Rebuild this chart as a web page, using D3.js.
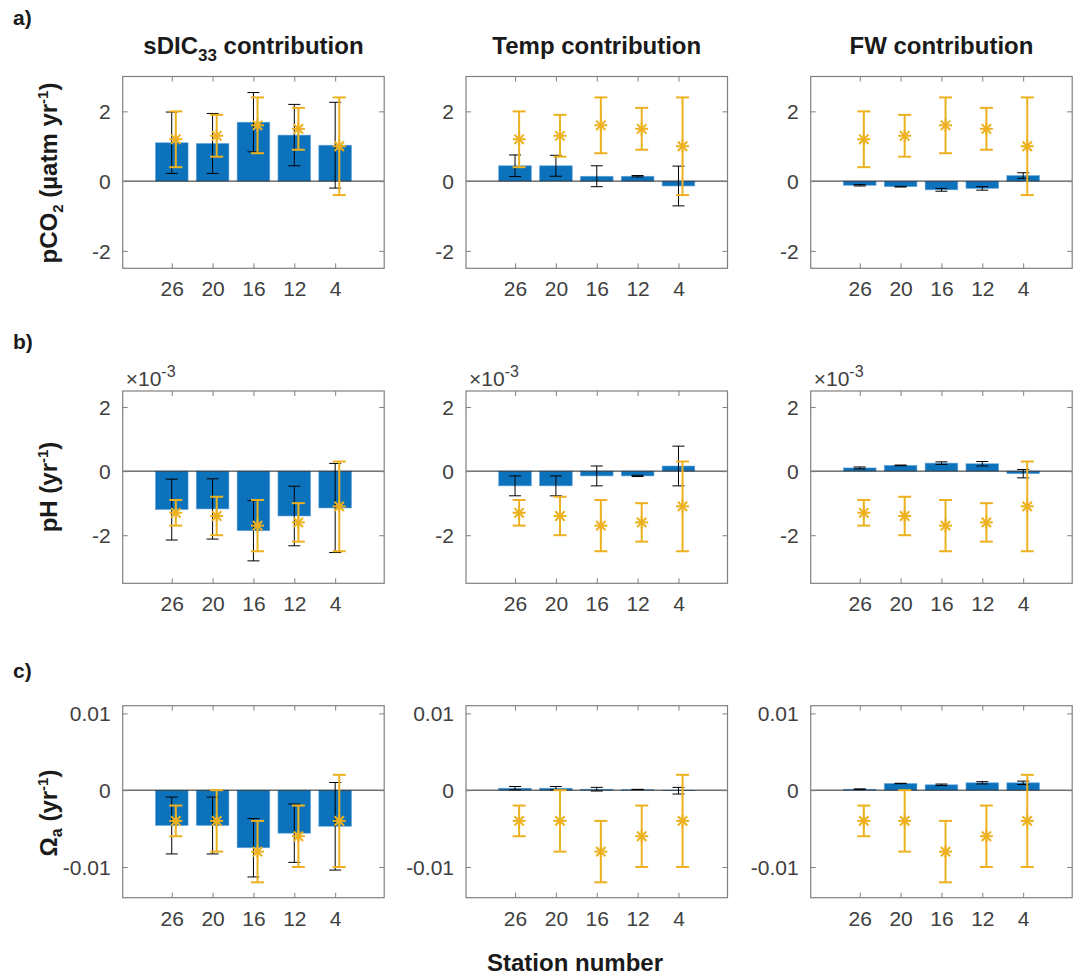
<!DOCTYPE html>
<html>
<head>
<meta charset="utf-8">
<script src="https://cdn.jsdelivr.net/npm/d3@7"></script>
<style>
  body { margin: 0; background: #fff; }
  text { font-family: "Liberation Sans", Arial, Helvetica, sans-serif; }
</style>
</head>
<body>
<svg id="fig" width="1082" height="978"></svg>
<script>
// station order along x
const stations = ["26", "20", "16", "12", "4"];

// a) pCO2 (uatm yr-1)
const pco2Obs = [1.2, 1.3, 1.6, 1.5, 1.0];
const pco2ObsErr = [0.8, 0.6, 0.8, 0.6, 1.4];
const pco2Dic = [1.10, 1.08, 1.69, 1.32, 1.03];
const pco2DicErr = [0.88, 0.86, 0.85, 0.88, 1.23];
const pco2Temp = [0.44, 0.44, 0.14, 0.14, -0.14];
const pco2TempErr = [0.31, 0.30, 0.30, 0.02, 0.57];
const pco2Fw = [-0.12, -0.16, -0.25, -0.21, 0.16];
const pco2FwErr = [0.02, 0.01, 0.04, 0.05, 0.08];

// b) pH (yr-1)
const phObs = [-1.3e-3, -1.4e-3, -1.7e-3, -1.6e-3, -1.1e-3];
const phObsErr = [0.4e-3, 0.6e-3, 0.8e-3, 0.6e-3, 1.4e-3];
const phDic = [-1.20e-3, -1.18e-3, -1.86e-3, -1.40e-3, -1.15e-3];
const phDicErr = [0.95e-3, 0.94e-3, 0.94e-3, 0.93e-3, 1.39e-3];
const phTemp = [-0.46e-3, -0.46e-3, -0.15e-3, -0.15e-3, 0.16e-3];
const phTempErr = [0.31e-3, 0.31e-3, 0.31e-3, 0.02e-3, 0.62e-3];
const phFw = [0.10e-3, 0.18e-3, 0.25e-3, 0.23e-3, -0.08e-3];
const phFwErr = [0.03e-3, 0.01e-3, 0.04e-3, 0.07e-3, 0.13e-3];

// c) Omega aragonite (yr-1)
const omObs = [-0.004, -0.004, -0.008, -0.006, -0.004];
const omObsErr = [0.002, 0.004, 0.004, 0.004, 0.006];
const omDic = [-0.0046, -0.0046, -0.0075, -0.0056, -0.0047];
const omDicErr = [0.0037, 0.0037, 0.0038, 0.0038, 0.0057];
const omTemp = [0.00026, 0.00026, 0.00013, 0.00009, -0.00007];
const omTempErr = [0.00022, 0.00022, 0.00024, 0.00002, 0.00043];
const omFw = [0.00013, 0.00087, 0.0007, 0.00096, 0.00096];
const omFwErr = [0.00003, 0.00003, 0.0001, 0.00015, 0.00022];

const yDomA = [-2.5, 3], yTicksA = [-2, 0, 2];
const yDomB = [-3.5e-3, 2.5e-3], yTicksB = [-2e-3, 0, 2e-3];
const yDomC = [-0.014, 0.011], yTicksC = [-0.01, 0, 0.01];

const titles = ["contribution", "Temp contribution", "FW contribution"];

const BLUE = "#0B72BB", ORANGE = "#EDB120", AXC = "#808080", TXT = "#404040";

const colX = [122.7, 466, 810.7];
const panelW = 261.5;
const rows = [
    {top: 76.5, bottom: 268.3, dom: yDomA, ticks: yTicksA, fmt: d => String(d),
     obs: pco2Obs, obsErr: pco2ObsErr,
     bars: [[pco2Dic, pco2DicErr], [pco2Temp, pco2TempErr], [pco2Fw, pco2FwErr]]},
    {top: 391, bottom: 583.3, dom: yDomB, ticks: yTicksB, fmt: d => String(Math.round(d * 1000)), exp: true,
     obs: phObs, obsErr: phObsErr,
     bars: [[phDic, phDicErr], [phTemp, phTempErr], [phFw, phFwErr]]},
    {top: 705.7, bottom: 897.7, dom: yDomC, ticks: yTicksC, fmt: d => String(d),
     obs: omObs, obsErr: omObsErr,
     bars: [[omDic, omDicErr], [omTemp, omTempErr], [omFw, omFwErr]]}
];

const svg = d3.select("#fig");

function errbar(g, x, y, v, e, color, lw, cap) {
    g.append("line").attr("x1", x).attr("x2", x)
        .attr("y1", y(v - e)).attr("y2", y(v + e))
        .attr("stroke", color).attr("stroke-width", lw);
    [v - e, v + e].forEach(t => {
        g.append("line").attr("x1", x - cap).attr("x2", x + cap)
            .attr("y1", y(t)).attr("y2", y(t))
            .attr("stroke", color).attr("stroke-width", lw);
    });
}

function star(g, cx, cy, r, color) {
    const d = r * 0.72;
    const segs = [[-r, 0, r, 0], [0, -r, 0, r], [-d, -d, d, d], [-d, d, d, -d]];
    segs.forEach(s => {
        g.append("line").attr("x1", cx + s[0]).attr("y1", cy + s[1])
            .attr("x2", cx + s[2]).attr("y2", cy + s[3])
            .attr("stroke", color).attr("stroke-width", 2);
    });
}

rows.forEach((row, ri) => {
    colX.forEach((x0, ci) => {
        const g = svg.append("g");
        const x = d3.scaleLinear().domain([-1.2, 5.2]).range([x0, x0 + panelW]);
        const y = d3.scaleLinear().domain(row.dom).range([row.bottom, row.top]);
        const vals = row.bars[ci][0], errs = row.bars[ci][1];

        // bars
        g.selectAll("rect.bar").data(vals).enter().append("rect")
            .attr("class", "bar")
            .attr("x", (d, i) => x(i - 0.4))
            .attr("width", x(0.8) - x(0))
            .attr("y", d => Math.min(y(d), y(0)))
            .attr("height", d => Math.abs(y(d) - y(0)))
            .attr("fill", BLUE)
            .attr("stroke", "#6fa8dc").attr("stroke-width", 0.6);

        // baseline
        g.append("line").attr("x1", x0).attr("x2", x0 + panelW)
            .attr("y1", y(0)).attr("y2", y(0))
            .attr("stroke", "#262626").attr("stroke-width", 1);

        // model errorbars
        vals.forEach((v, i) => errbar(g, x(i), y, v, errs[i], "#000", 1, 6));

        // observed trend with errorbars
        row.obs.forEach((v, i) => {
            errbar(g, x(i + 0.1), y, v, row.obsErr[i], ORANGE, 2, 6.5);
            star(g, x(i + 0.1), y(v), 6.5, ORANGE);
        });

        // axes box and ticks
        const tv = stations.map((s, i) => i);
        const axB = g.append("g").attr("transform", `translate(0,${row.bottom})`)
            .call(d3.axisBottom(x).tickValues(tv).tickFormat(i => stations[i])
                .tickSizeInner(-5).tickSizeOuter(0).tickPadding(13));
        const axT = g.append("g").attr("transform", `translate(0,${row.top})`)
            .call(d3.axisTop(x).tickValues(tv).tickFormat("")
                .tickSizeInner(-5).tickSizeOuter(0));
        const axL = g.append("g").attr("transform", `translate(${x0},0)`)
            .call(d3.axisLeft(y).tickValues(row.ticks).tickFormat(row.fmt)
                .tickSizeInner(-5).tickSizeOuter(0).tickPadding(12));
        const axR = g.append("g").attr("transform", `translate(${x0 + panelW},0)`)
            .call(d3.axisRight(y).tickValues(row.ticks).tickFormat("")
                .tickSizeInner(-5).tickSizeOuter(0));
        [axB, axT, axL, axR].forEach(a => {
            a.select(".domain").remove();
            a.selectAll("line").attr("stroke", AXC);
            a.selectAll("text").attr("fill", TXT).style("font-size", "21px")
                .style("font-family", "'Liberation Sans', Arial, sans-serif");
        });
        axL.selectAll("text").attr("dy", "0.36em");
        g.append("rect").attr("x", x0).attr("y", row.top)
            .attr("width", panelW).attr("height", row.bottom - row.top)
            .attr("fill", "none").attr("stroke", AXC).attr("stroke-width", 1.2);

        if (row.exp) {
            const t = g.append("text").attr("x", x0 + 3).attr("y", row.top - 5)
                .attr("fill", TXT).style("font-size", "21px");
            t.append("tspan").text("\u00d710");
            t.append("tspan").attr("dy", -9).style("font-size", "16px").text("-3");
        }
    });
});

// column titles
colX.forEach((x0, ci) => {
    const t = svg.append("text").attr("x", x0 + panelW / 2).attr("y", 54)
        .attr("text-anchor", "middle").attr("font-weight", "bold")
        .attr("fill", "#1a1a1a").style("font-size", "24px");
    if (ci === 0) {
        t.append("tspan").text("sDIC");
        t.append("tspan").attr("dy", 7).style("font-size", "17px").text("33");
        t.append("tspan").attr("dy", -7).text(" " + titles[0]);
    } else {
        t.text(titles[ci]);
    }
});

// panel letters
[["a)", 25], ["b)", 349], ["c)", 678]].forEach(p => {
    svg.append("text").attr("x", 13).attr("y", p[1]).attr("font-weight", "bold")
        .attr("fill", "#1a1a1a").style("font-size", "21px").text(p[0]);
});

// y labels
function ylab(cy, parts) {
    const t = svg.append("text")
        .attr("transform", `translate(57,${cy}) rotate(-90)`)
        .attr("text-anchor", "middle").attr("font-weight", "bold")
        .attr("fill", "#1a1a1a").style("font-size", "24px");
    parts.forEach(p => {
        const s = t.append("tspan").text(p[0]);
        if (p[1]) s.attr("dy", p[1]);
        if (p[2]) s.style("font-size", p[2]);
    });
}
ylab(173, [["pCO"], ["2", 6, "15px"], [" (\u00b5atm yr", -6], ["-1", -9, "15px"], [")", 9]]);
ylab(487, [["pH (yr"], ["-1", -9, "15px"], [")", 9]]);
ylab(813, [["\u03a9"], ["a", 5, "16px"], [" (yr", -5], ["-1", -9, "15px"], [")", 9]]);

// x label
svg.append("text").attr("x", 575).attr("y", 971).attr("text-anchor", "middle")
    .attr("font-weight", "bold").attr("fill", "#1a1a1a").style("font-size", "24px")
    .text("Station number");
</script>
</body>
</html>
